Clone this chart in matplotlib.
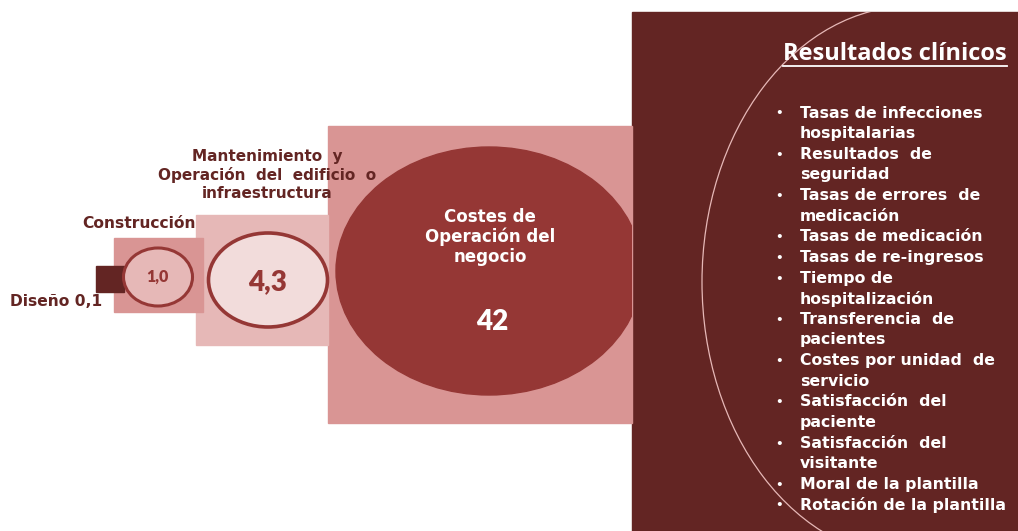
import matplotlib.pyplot as plt
from matplotlib.patches import Rectangle, Ellipse, Arc

# --- dati ---
fasi = ["Diseño", "Construcción", "Mantenimiento y Operación del edificio o infraestructura",
        "Costes de Operación del negocio"]
valori = ["0,1", "1,0", "4,3", "42"]

titolo_destra = "Resultados clínicos"
risultati = [
    ["Tasas de infecciones", "hospitalarias"],
    ["Resultados  de", "seguridad"],
    ["Tasas de errores  de", "medicación"],
    ["Tasas de medicación"],
    ["Tasas de re-ingresos"],
    ["Tiempo de", "hospitalización"],
    ["Transferencia  de", "pacientes"],
    ["Costes por unidad  de", "servicio"],
    ["Satisfacción  del", "paciente"],
    ["Satisfacción  del", "visitante"],
    ["Moral de la plantilla"],
    ["Rotación de la plantilla"],
]

# --- colori ---
SCURO = "#632523"
MEDIO = "#953735"
ROSA = "#d99594"
ROSA_CHIARO = "#e6b8b7"
ROSA_TENUE = "#f2dcdb"

W, H = 1018, 531
fig = plt.figure(figsize=(W / 100, H / 100), dpi=100)
ax = fig.add_axes([0, 0, 1, 1])
ax.set_xlim(0, W)
ax.set_ylim(H, 0)
ax.axis("off")

# riquadri (x, y, larghezza, altezza) in pixel
ax.add_patch(Rectangle((632, 12), W - 632, H - 12, color=SCURO, zorder=1))
ax.add_patch(Rectangle((328, 126), 304, 297, color=ROSA, zorder=1))
ax.add_patch(Rectangle((196, 215), 132, 130, color=ROSA_CHIARO, zorder=2))
ax.add_patch(Rectangle((114, 238), 89, 74, color=ROSA, zorder=3))
ax.add_patch(Rectangle((96, 266), 28, 26, color=SCURO, zorder=4))

# ellissi
costes = Ellipse((489, 271), 306, 248, color=MEDIO, zorder=2)
ax.add_patch(costes)
costes.set_clip_path(Rectangle((0, 0), 632, H, transform=ax.transData))
ax.add_patch(Ellipse((268, 280), 119, 94, facecolor=ROSA_TENUE, edgecolor=MEDIO, lw=2.6, zorder=3))
ax.add_patch(Ellipse((158, 277), 69, 58, facecolor=ROSA_CHIARO, edgecolor=MEDIO, lw=2.2, zorder=5))

# arco chiaro sul pannello scuro (solo la metà sinistra)
arco = Arc((912, 282), 420, 552, theta1=90, theta2=270, edgecolor="#e6b8b7", lw=0.9, zorder=2)
ax.add_patch(arco)
arco.set_clip_path(Rectangle((632, 12), W - 632, H - 12, transform=ax.transData))

sans = "DejaVu Sans"
calibri = "Lato"

# etichette a sinistra
ax.text(10, 302, f"{fasi[0]} {valori[0]}", color=SCURO, fontsize=11.2, weight="bold",
        family=sans, ha="left", va="center", zorder=6)
ax.text(139, 224, fasi[1], color=SCURO, fontsize=11.2, weight="bold",
        family=sans, ha="center", va="center", zorder=6)
ax.text(267, 175, "Mantenimiento  y\nOperación  del  edificio  o\ninfraestructura",
        color=SCURO, fontsize=11, weight="bold", family=sans, ha="center", va="center",
        linespacing=1.2, zorder=6)

ax.text(157, 277, valori[1], color=MEDIO, fontsize=11.5, weight="heavy", family=calibri,
        ha="center", va="center", zorder=6)
ax.text(268, 282, valori[2], color=MEDIO, fontsize=20, weight="heavy", family=calibri,
        ha="center", va="center", zorder=6)

ax.text(490, 237, "Costes de\nOperación del\nnegocio", color="white", fontsize=12,
        weight="bold", family=sans, ha="center", va="center", linespacing=1.15, zorder=6)
ax.text(492, 322, valori[3], color="white", fontsize=20, weight="heavy", family=calibri,
        ha="center", va="center", zorder=6)

# pannello dei risultati clinici
t = ax.text(895, 54, titolo_destra, color="white", fontsize=17, weight="bold",
            family="Open Sans", ha="center", va="center", zorder=6)
fig.canvas.draw()
bb = t.get_window_extent().transformed(ax.transData.inverted())
ax.plot([bb.x0, bb.x1], [66, 66], color="white", lw=1.3, zorder=6)

riga = 0
y0, passo = 113, 20.63
for voce in risultati:
    ax.text(779, y0 + riga * passo + 1, "•", color="white", fontsize=8.5, weight="bold",
            family=sans, ha="center", va="center", zorder=6)
    for testo in voce:
        ax.text(800, y0 + riga * passo, testo, color="white", fontsize=11.3, weight="bold",
                family=sans, ha="left", va="center", zorder=6)
        riga += 1

fig.savefig("out.png", dpi=100)
